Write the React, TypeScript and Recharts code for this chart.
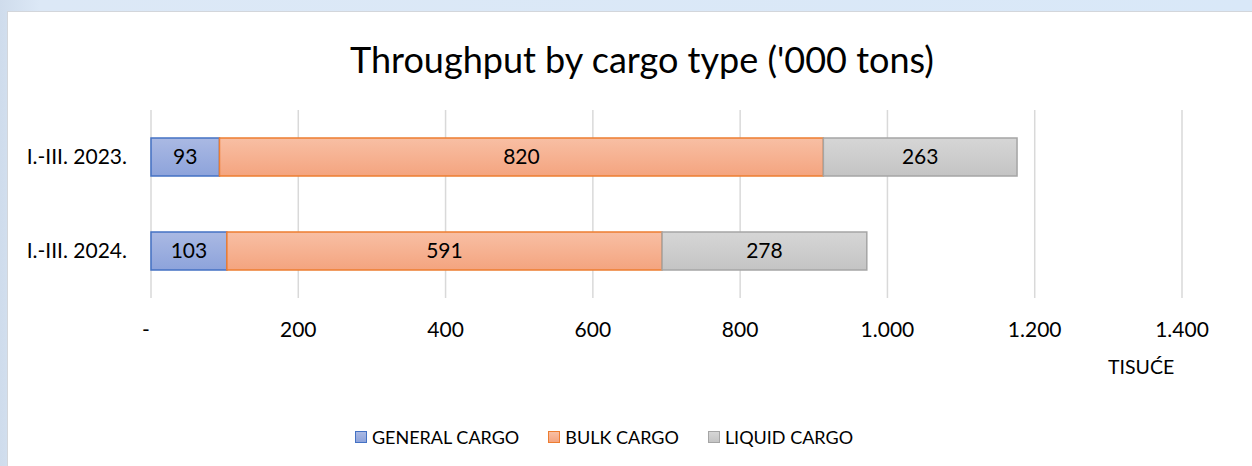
import React from 'react';
import { BarChart, Bar, XAxis, YAxis, CartesianGrid, LabelList } from 'recharts';

const periods = ['I.-III. 2023.', 'I.-III. 2024.'];
const generalCargo = [93, 103];
const bulkCargo = [820, 591];
const liquidCargo = [263, 278];
const xTicks = [0, 200, 400, 600, 800, 1000, 1200, 1400];

const series = [
  { key: 'general', name: 'GENERAL CARGO', values: generalCargo, top: '#aab9e3', bottom: '#8da3db', stroke: '#4472c4' },
  { key: 'bulk', name: 'BULK CARGO', values: bulkCargo, top: '#f8bfa4', bottom: '#f4a47f', stroke: '#ed7d31' },
  { key: 'liquid', name: 'LIQUID CARGO', values: liquidCargo, top: '#d6d6d6', bottom: '#c4c4c4', stroke: '#a5a5a5' },
];

const data = periods.map((p, i) => ({
  period: p,
  general: generalCargo[i],
  bulk: bulkCargo[i],
  liquid: liquidCargo[i],
}));

const FONT = 'Lato, "Open Sans", sans-serif';

const fmt = (v: number) => (v === 0 ? '-' : v.toLocaleString('de-DE'));

// excel pushes the "-" for zero a little left of its gridline
const XTick = (props: any) => {
  const { x, y, payload } = props;
  const v = payload.value as number;
  return (
    <text x={v === 0 ? x - 5 : x} y={y} dy="0.71em" textAnchor="middle" fill="#000" fontSize={21} fontFamily={FONT}>
      {fmt(v)}
    </text>
  );
};

export default function App() {
  return (
    <div style={{ position: 'absolute', left: 0, top: 0, width: 1252, height: 466, background: 'linear-gradient(90deg, #cfdcec 0px, #dce8f6 40px, #d9e8f8 100%)', fontFamily: FONT, overflow: 'hidden' }}>
      <div style={{ position: 'absolute', left: 7, top: 11, width: 1250, height: 460, background: '#fff', borderTop: '1px solid #d3d6db', borderLeft: '1px solid #d3d6db' }} />
      <div style={{ position: 'absolute', left: 142, width: 1000, top: 37, textAlign: 'center', fontSize: 36, color: '#000', lineHeight: '44px' }}>
        Throughput by cargo type ('000 tons)
      </div>
      <div style={{ position: 'absolute', left: 0, top: 0 }}>
        <BarChart
          width={1252}
          height={466}
          data={data}
          layout="vertical"
          margin={{ top: 110, right: 70, bottom: 108, left: 0 }}
          barSize={38}
        >
          <defs>
            {series.map((s) => (
              <linearGradient key={s.key} id={`g-${s.key}`} x1="0" y1="0" x2="0" y2="1">
                <stop offset="0%" stopColor={s.top} />
                <stop offset="100%" stopColor={s.bottom} />
              </linearGradient>
            ))}
          </defs>
          <CartesianGrid horizontal={false} stroke="#d9d9d9" strokeWidth={1.5} />
          <XAxis
            type="number"
            domain={[0, 1400]}
            ticks={xTicks}
            axisLine={false}
            tickLine={false}
            tickSize={0}
            tickMargin={24}
            height={60}
            interval={0}
            tick={<XTick />}
          />
          <YAxis
            type="category"
            dataKey="period"
            width={151}
            axisLine={false}
            tickLine={false}
            tickSize={0}
            tickMargin={24}
            tick={{ fill: '#000', fontSize: 21, fontFamily: FONT }}
          />
          {series.map((s) => (
            <Bar
              key={s.key}
              dataKey={s.key}
              name={s.name}
              stackId="a"
              fill={`url(#g-${s.key})`}
              stroke={s.stroke}
              strokeWidth={1.5}
              isAnimationActive={false}
            >
              <LabelList dataKey={s.key} position="center" fill="#000" fontSize={21} fontFamily={FONT} />
            </Bar>
          ))}
        </BarChart>
      </div>
      <div style={{ position: 'absolute', left: 1108, top: 355, fontSize: 19.5, color: '#000', lineHeight: '24px' }}>TISUĆE</div>
      <div style={{ position: 'absolute', left: 0, width: 1252, top: 424, display: 'flex', justifyContent: 'center' }}>
        <div style={{ display: 'flex', alignItems: 'center', position: 'relative', left: -22 }}>
          {series.map((s, i) => (
            <div key={s.key} style={{ display: 'flex', alignItems: 'center', marginLeft: i === 0 ? 0 : 29 }}>
              <div style={{ width: 10, height: 10, border: `1.5px solid ${s.stroke}`, background: `linear-gradient(${s.top}, ${s.bottom})` }} />
              <span style={{ marginLeft: 5, fontSize: 18, lineHeight: '26px', color: '#000' }}>{s.name}</span>
            </div>
          ))}
        </div>
      </div>
    </div>
  );
}
